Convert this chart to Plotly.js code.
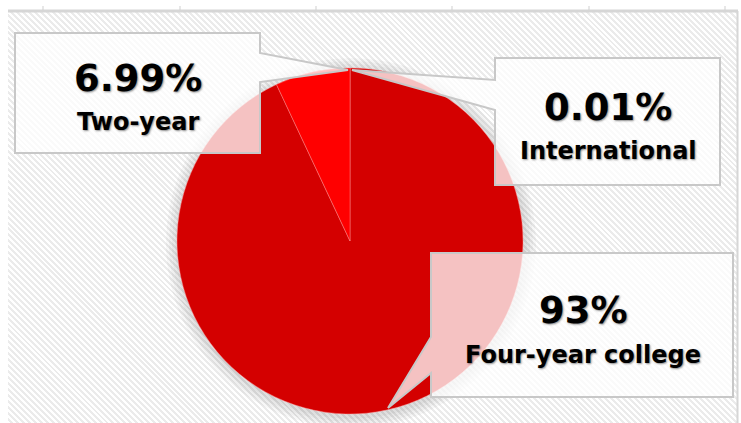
<!DOCTYPE html>
<html>
<head>
<meta charset="utf-8">
<script src="https://cdn.plot.ly/plotly-3.0.1.min.js"></script>
<style>
  html, body { margin: 0; padding: 0; background: #ffffff; }
  #wrap { position: relative; width: 741px; height: 423px; overflow: hidden; background: #ffffff; }
  #hatch { position: absolute; left: 8px; top: 11px; right: 4px; bottom: 0px;
    background: repeating-linear-gradient(45deg, #ffffff 0px, #ffffff 2.1px, #ebebeb 2.1px, #ebebeb 4.2px); }
  #chart { position: absolute; left: 0; top: 0; width: 741px; height: 423px; }
</style>
</head>
<body>
<div id="wrap"><div id="hatch"></div><div id="chart"></div></div>
<script>
// ---- data (clockwise from 12 o'clock) ----
const categories = ["International", "Four-year college", "Two-year"];
const values = [0.01, 93, 6.99];
const valueLabels = ["0.01%", "93%", "6.99%"];
const sliceColors = ["#e00000", "#d40000", "#ff0000"];

// ---- layout helpers ----
const W = 741, H = 423;
const px = x => x / W;
const py = y => 1 - y / H;
const poly = pts => "M " + pts.map(p => px(p[0]).toFixed(5) + "," + py(p[1]).toFixed(5)).join(" L ") + " Z";

// pie geometry (pixels)
const cx = 350, cy = 241, r = 173;

const shapes = [];
// soft shadow around pie
[12, 9, 6, 3].forEach(d => {
  shapes.push({type: "circle", xref: "paper", yref: "paper", layer: "below",
    x0: px(cx - r - d + 1), x1: px(cx + r + d + 1), y0: py(cy + r + d + 2), y1: py(cy - r - d + 2),
    fillcolor: "rgba(0,0,0,0.03)", line: {width: 0}});
});
// frame lines and ticks
shapes.push({type: "line", xref: "paper", yref: "paper", x0: px(8), x1: px(738), y0: py(11), y1: py(11),
  line: {color: "#d6d6d6", width: 3}, layer: "below"});
shapes.push({type: "line", xref: "paper", yref: "paper", x0: px(737.5), x1: px(737.5), y0: py(11), y1: py(423),
  line: {color: "#d6d6d6", width: 2}, layer: "below"});
[43, 180, 316, 452, 589, 725].forEach(t => {
  shapes.push({type: "line", xref: "paper", yref: "paper", x0: px(t), x1: px(t), y0: py(6), y1: py(10),
    line: {color: "#cfcfcf", width: 1}, layer: "below"});
});
// callouts (International, Four-year, Two-year)
const boxStyle = {fillcolor: "rgba(255,255,255,0.76)", line: {color: "#c8c8c8", width: 2}, layer: "above"};
const callouts = [
  [[495,58],[720,58],[720,185],[495,185],[495,110],[352,70],[495,80]],
  [[431,253],[733,253],[733,397],[431,397],[431,373],[388,408],[431,337]],
  [[15,33],[260,33],[260,53],[348,70],[260,82],[260,153],[15,153]]
];
callouts.forEach(c => shapes.push(Object.assign({type: "path", xref: "paper", yref: "paper", path: poly(c)}, boxStyle)));

// annotations (value + category) per slice
const labelPos = [ // [x, yValue, yCategory] pixels, in category order
  [608, 107.5, 150.5],
  [583, 310.5, 355],
  [138, 78.5, 121.5]
];
const shadow = "1px 1px 2px rgba(0,0,0,0.45)";
const annotations = [];
categories.forEach((cat, i) => {
  const p = labelPos[i];
  annotations.push({xref: "paper", yref: "paper", x: px(p[0]), y: py(p[1]), xanchor: "center", yanchor: "middle",
    showarrow: false, text: valueLabels[i],
    font: {family: "DejaVu Sans", size: 37, weight: "bold", color: "#000", shadow: shadow}});
  annotations.push({xref: "paper", yref: "paper", x: px(p[0]), y: py(p[2]), xanchor: "center", yanchor: "middle",
    showarrow: false, text: cat,
    font: {family: "DejaVu Sans", size: 24, weight: "bold", color: "#000", shadow: shadow}});
});

const trace = {
  type: "pie",
  labels: categories,
  values: values,
  sort: false,
  direction: "clockwise",
  rotation: 0,
  textinfo: "none",
  hoverinfo: "skip",
  showlegend: false,
  marker: {colors: sliceColors, line: {color: "rgba(255,150,150,0.55)", width: 0.8}},
  domain: {x: [px(cx - r), px(cx + r)], y: [py(cy + r), py(cy - r)]}
};

const layout = {
  width: W, height: H,
  margin: {l: 0, r: 0, t: 0, b: 0},
  paper_bgcolor: "rgba(0,0,0,0)",
  plot_bgcolor: "rgba(0,0,0,0)",
  showlegend: false,
  shapes: shapes,
  annotations: annotations
};

Plotly.newPlot("chart", [trace], layout, {staticPlot: true, displayModeBar: false});
</script>
</body>
</html>
